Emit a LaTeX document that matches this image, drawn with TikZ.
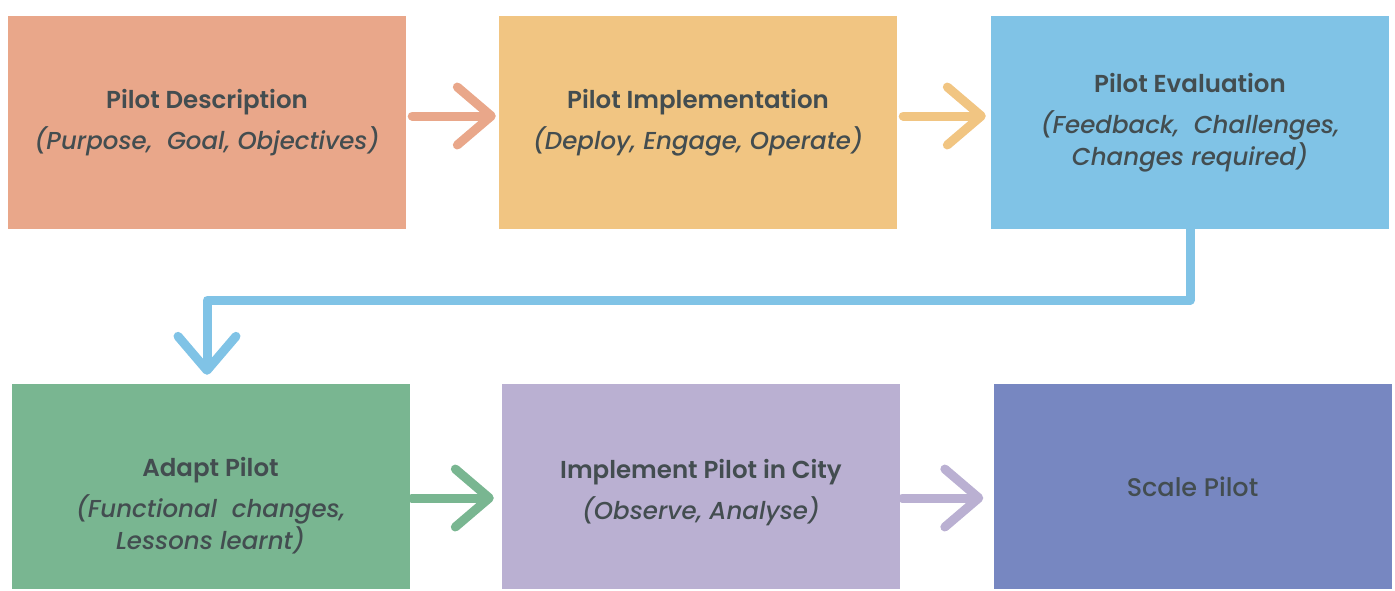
\documentclass[tikz,border=0pt]{standalone}
\usepackage{fontspec}
% heavier cuts of Poppins where they are installed
\IfFontExistsTF{Poppins SemiBold}{\def\pBold{Poppins SemiBold}}{\def\pBold{Poppins Bold}}
\IfFontExistsTF{Poppins Medium Italic}{\def\pItal{Poppins Medium Italic}}{\def\pItal{Poppins Italic}}
\IfFontExistsTF{Poppins Medium}{\def\pMed{Poppins Medium}}{\def\pMed{Poppins}}
\setmainfont{Poppins}[BoldFont=\pBold,ItalicFont=\pItal]
\newfontface\medface{\pMed}
\usetikzlibrary{arrows.meta}

\definecolor{descC}{HTML}{E9A78A}
\definecolor{implC}{HTML}{F1C582}
\definecolor{evalC}{HTML}{80C3E6}
\definecolor{adaptC}{HTML}{79B691}
\definecolor{cityC}{HTML}{BAB0D2}
\definecolor{scaleC}{HTML}{7787C1}
\definecolor{ink}{HTML}{434D50}

\tikzstyle{box}=[rectangle,minimum width=398pt,minimum height=213pt,inner sep=0pt,align=center,text=ink,font=\fontsize{24.5}{32}\selectfont]
\tikzstyle{lowbox}=[box,minimum height=205pt]
\tikzstyle{flow}=[-{Straight Barb[length=34pt,width=58pt,round]},line width=9pt,line cap=round,line join=round]

\begin{document}
\begin{tikzpicture}[x=1pt,y=-1pt]
  \useasboundingbox (0,0) rectangle (1395,590);

  % top row
  \node[box,fill=descC] (PD) at (207,122.5) {\textbf{Pilot Description}\\[9pt]\textit{(Purpose, \ Goal, Objectives)}};
  \node[box,fill=implC] (PI) at (698,122.5) {\textbf{Pilot Implementation}\\[9pt]\textit{(Deploy, Engage, Operate)}};
  \node[box,fill=evalC] (PE) at (1190,122.5) {\textbf{Pilot Evaluation}\\[9pt]\textit{(Feedback, \ Challenges,}\\\textit{Changes required)}};

  % bottom row
  \node[lowbox,fill=adaptC] (AP) at (210.5,486.5) {\rule{0pt}{58pt}\textbf{Adapt Pilot}\\[9pt]\textit{(Functional \ changes,}\\\textit{Lessons learnt)}};
  \node[lowbox,fill=cityC] (IC) at (701,486.5) {\rule{0pt}{31pt}\textbf{Implement Pilot in City}\\[9pt]\textit{(Observe, Analyse)}};
  \node[lowbox,fill=scaleC,font=\fontsize{25.5}{32}\medface] (SP) at (1192.5,486.5) {Scale Pilot};

  \draw[flow,descC,shorten <=6pt,shorten >=3pt] ([yshift=6.5pt]PD.east)--([yshift=6.5pt]PI.west);
  \draw[flow,implC,shorten <=6pt,shorten >=5pt] ([yshift=6.5pt]PI.east)--([yshift=6.5pt]PE.west);
  \draw[flow,evalC,shorten >=9pt] (PE.south)--++(0,71)-|([xshift=-3.5pt]AP.north);
  \draw[flow,adaptC,shorten <=2pt,shorten >=8pt] ([yshift=-11.5pt]AP.east)--([yshift=-11.5pt]IC.west);
  \draw[flow,cityC,shorten <=2pt,shorten >=10pt] ([yshift=-11.5pt]IC.east)--([yshift=-11.5pt]SP.west);

\end{tikzpicture}
\end{document}
